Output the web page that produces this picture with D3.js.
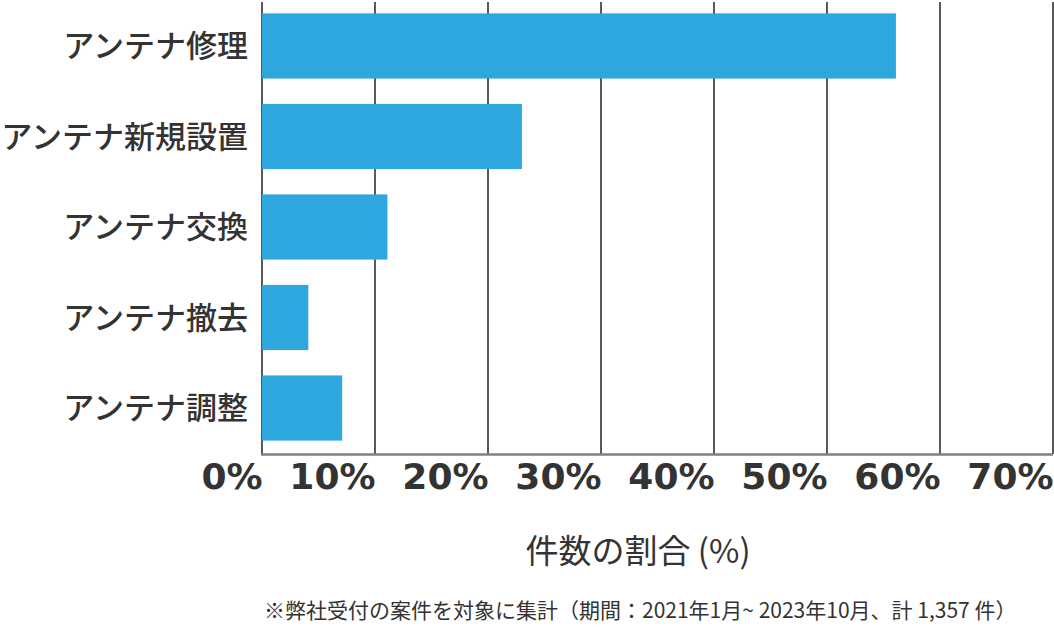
<!DOCTYPE html>
<html lang="ja">
<head>
<meta charset="utf-8">
<script src="https://cdn.jsdelivr.net/npm/d3@7"></script>
<style>
  body { margin: 0; background: #fff; }
  .cat text { font-family: "Noto Sans CJK JP", sans-serif; font-weight: 500; font-size: 31px; fill: #333; }
  .xaxis text { font-family: "DejaVu Sans", sans-serif; font-weight: bold; font-size: 36px; fill: #333; }
</style>
</head>
<body>
<div id="chart"></div>
<script>
// data
var categories = ["アンテナ修理", "アンテナ新規設置", "アンテナ交換", "アンテナ撤去", "アンテナ調整"];
var shares = [56.1, 23.0, 11.1, 4.1, 7.1];
var tickValues = [0, 10, 20, 30, 40, 50, 60, 70];
var axisTitle = "件数の割合 (%)";
var footnote = "※弊社受付の案件を対象に集計（期間：2021年1月~ 2023年10月、計 1,357 件）";

var W = 1054, H = 629;
var margin = {top: 2, right: 1, bottom: 175, left: 262};

var data = categories.map(function(c, i) { return {name: c, value: shares[i]}; });

var svg = d3.select("#chart").append("svg")
    .attr("width", W)
    .attr("height", H);

var x = d3.scaleLinear().domain([0, 70]).range([margin.left, W - margin.right]);
var yBottom = 454;
var y = d3.scaleBand()
    .domain(categories)
    .range([0, yBottom])
    .paddingInner(0.28)
    .paddingOuter(0.148);

// gridlines
svg.append("g")
  .selectAll("line")
  .data(tickValues)
  .enter().append("line")
    .attr("x1", function(d) { return x(d); })
    .attr("x2", function(d) { return x(d); })
    .attr("y1", margin.top)
    .attr("y2", yBottom)
    .attr("stroke", "#000")
    .attr("stroke-width", 1.3);

// bars
svg.append("g")
  .selectAll("rect")
  .data(data)
  .enter().append("rect")
    .attr("x", x(0))
    .attr("y", function(d) { return y(d.name); })
    .attr("width", function(d) { return x(d.value) - x(0); })
    .attr("height", y.bandwidth())
    .attr("fill", "#2ea7df");

// bottom axis line
svg.append("line")
    .attr("x1", x(0) - 1)
    .attr("x2", x(70))
    .attr("y1", yBottom + 0.5)
    .attr("y2", yBottom + 0.5)
    .attr("stroke", "#7f7f7f")
    .attr("stroke-width", 2.5);

// x tick labels, right aligned to the gridlines
var xAxis = svg.append("g")
    .attr("class", "xaxis")
    .attr("transform", "translate(0," + yBottom + ")")
    .call(d3.axisBottom(x).tickValues(tickValues).tickSize(0).tickPadding(0)
      .tickFormat(function(d) { return d + "%"; }));
xAxis.select(".domain").remove();
xAxis.selectAll("text")
    .attr("text-anchor", "end")
    .attr("dy", null)
    .attr("y", 35);

// category labels
var yAxis = svg.append("g")
    .attr("class", "cat")
    .attr("transform", "translate(" + (margin.left - 14) + ",0)")
    .call(d3.axisLeft(y).tickSize(0).tickPadding(0));
yAxis.select(".domain").remove();
yAxis.selectAll("text").attr("dy", "0.36em");

// axis title
svg.append("text")
    .attr("x", 638)
    .attr("y", 563)
    .attr("text-anchor", "middle")
    .style("font-family", "'Noto Sans CJK JP', sans-serif")
    .style("font-size", "33px")
    .style("fill", "#333")
    .text(axisTitle);

// footnote
svg.append("text")
    .attr("x", 264)
    .attr("y", 618)
    .style("font-family", "'Noto Sans CJK JP', sans-serif")
    .style("font-size", "21px")
    .style("fill", "#333")
    .text(footnote);
</script>
</body>
</html>
